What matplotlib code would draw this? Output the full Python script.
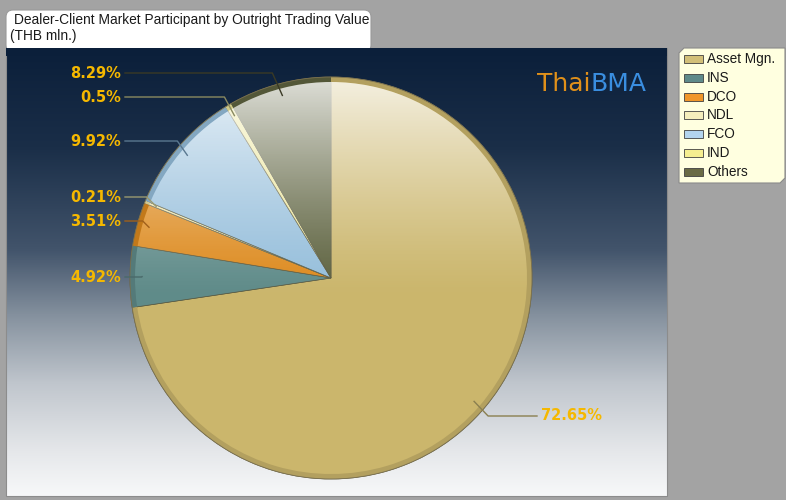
import numpy as np
import matplotlib
matplotlib.use("Agg")
import matplotlib.pyplot as plt
from matplotlib.patches import FancyBboxPatch, Polygon, Rectangle, Circle
from matplotlib.colors import LinearSegmentedColormap, to_rgb

# chart data
categories = ["Asset Mgn.", "INS", "DCO", "NDL", "FCO", "IND", "Others"]
shares = [72.65, 4.92, 3.51, 0.21, 9.92, 0.5, 8.29]
pct_labels = ["72.65%", "4.92%", "3.51%", "0.21%", "9.92%", "0.5%", "8.29%"]

wedge_colors = ["#cbb66c", "#5f8b89", "#dd8a1e", "#ede3a8", "#95bedb", "#ece69a", "#5e6340"]
legend_colors = ["#d2bf78", "#5f8a8a", "#f0962a", "#f5eebc", "#b3d4ee", "#f5ee90", "#6a6b45"]
line_colors = ["#8a7f50", "#4a6a6a", "#a0601a", "#9a9a70", "#5a7890", "#8a8a60", "#3a3a25"]

W, H = 786, 500
fig = plt.figure(figsize=(W / 100, H / 100), dpi=100, facecolor="#a3a3a3")
ax = fig.add_axes([0, 0, 1, 1])
ax.set_xlim(0, W)
ax.set_ylim(0, H)
ax.axis("off")


def py(y_top):
    # pixel-from-top -> data y
    return H - y_top


# panel background gradient
px0, px1, ptop, pbot = 6, 667, 48, 496
bg = LinearSegmentedColormap.from_list("bg", [
    (0.0, "#0b1f3a"), (0.22, "#1a2e48"), (0.45, "#42546b"),
    (0.6, "#86929f"), (0.75, "#c0c6cd"), (0.9, "#e5e7ea"), (1.0, "#f7f8f9")])
grad = np.linspace(0, 1, 256).reshape(-1, 1)
ax.imshow(grad, cmap=bg, aspect="auto", extent=(px0, px1, py(pbot), py(ptop)),
          origin="upper", zorder=0)
ax.add_patch(Rectangle((px0, py(pbot)), px1 - px0, pbot - ptop, fill=False,
                       edgecolor="#8c8c8c", linewidth=0.8, zorder=1))

# title tab
ax.add_patch(FancyBboxPatch((6, py(52)), 365, 42, boxstyle="round,pad=0,rounding_size=7",
                            facecolor="white", edgecolor="#9a9a9a", linewidth=0.8, zorder=1))
ax.add_patch(Rectangle((px0, py(56)), px1 - px0, 8, facecolor="#0b1f3a", edgecolor="none", zorder=1.5))
ax.text(14, py(20), "Dealer-Client Market Participant by Outright Trading Value",
        family="Liberation Sans", fontsize=9.9, color="#1a1a1a", va="center", ha="left", zorder=2)
ax.text(10, py(36), "(THB mln.)", family="Liberation Sans", fontsize=9.9,
        color="#1a1a1a", va="center", ha="left", zorder=2)

# logo
t = ax.text(537, py(84), "Thai", family="DejaVu Sans", fontsize=18, color="#e0901a",
            va="center", ha="left", zorder=2)
fig.canvas.draw()
bb = t.get_window_extent().transformed(ax.transData.inverted())
ax.text(bb.x1, py(84), "BMA", family="DejaVu Sans", fontsize=18, color="#3a8ee0",
        va="center", ha="left", zorder=2)

# pie
cx, cy, R = 331, py(278), 201
wedges, _ = ax.pie(shares, colors=wedge_colors, startangle=90, counterclock=False,
                   center=(cx, cy), radius=R, frame=True,
                   wedgeprops=dict(edgecolor="#5a5a40", linewidth=0.5, zorder=3))
for w in wedges:
    w.set_zorder(3)
rim_colors = [tuple(c * 0.88 for c in to_rgb(col)) for col in wedge_colors]
rims, _ = ax.pie(shares, colors=rim_colors, startangle=90, counterclock=False,
                 center=(cx, cy), radius=R, frame=True,
                 wedgeprops=dict(width=5, edgecolor="none", zorder=4))
for w in rims:
    w.set_zorder(4)
ax.add_patch(Circle((cx, cy), R, fill=False, edgecolor="#7a7050", linewidth=0.6, zorder=5))

# gloss on top half
gl = np.zeros((256, 2, 4))
gl[..., :3] = 1.0
a = np.clip(1 - np.linspace(0, 1, 256) / 0.55, 0, 1) ** 1.3 * 0.8
gl[..., 3] = a[:, None]
im = ax.imshow(gl, extent=(cx - R, cx + R, cy - R, cy + R), origin="upper",
               aspect="auto", zorder=4.5)
im.set_clip_path(Circle((cx, cy), R - 5, transform=ax.transData))
ax.set_xlim(0, W)
ax.set_ylim(0, H)

# labels with leader lines
label_tops = [416, 277, 221, 197, 141, 97, 73]
for w, lab, lc, ytop in zip(wedges, pct_labels, line_colors, label_tops):
    mid = np.deg2rad((w.theta1 + w.theta2) / 2)
    axp, ayp = cx + 0.94 * R * np.cos(mid), cy + 0.94 * R * np.sin(mid)
    ty = py(ytop)
    if np.cos(mid) >= 0:
        ex = axp + 14
        ax.plot([axp, ex, 537], [ayp, ty, ty], color=lc, linewidth=1, zorder=6)
        ax.text(541, ty, lab, family="DejaVu Sans", fontweight="bold", fontsize=10.5,
                color="#f5b800", ha="left", va="center", zorder=6)
    else:
        ex = axp - min(10, abs(ayp - ty))
        ax.plot([125, ex, axp], [ty, ty, ayp], color=lc, linewidth=1, zorder=6)
        ax.text(121, ty, lab, family="DejaVu Sans", fontweight="bold", fontsize=10.5,
                color="#f5b800", ha="right", va="center", zorder=6)

# legend box
ax.add_patch(Polygon([(684, py(48)), (785, py(48)), (785, py(178)), (780, py(183)),
                      (679, py(183)), (679, py(53))], closed=True,
                     facecolor="#ffffe0", edgecolor="#8a8a8a", linewidth=0.8, zorder=2))
for i, (name, col) in enumerate(zip(categories, legend_colors)):
    yt = 59 + i * 18.8
    ax.add_patch(Rectangle((684, py(yt) - 4), 19, 8, facecolor=col,
                           edgecolor="#404040", linewidth=0.6, zorder=3))
    ax.text(707, py(yt), name, family="Liberation Sans", fontsize=9.8,
            color="#1a1a1a", va="center", ha="left", zorder=3)

fig.savefig("out.png", dpi=100, facecolor=fig.get_facecolor())
